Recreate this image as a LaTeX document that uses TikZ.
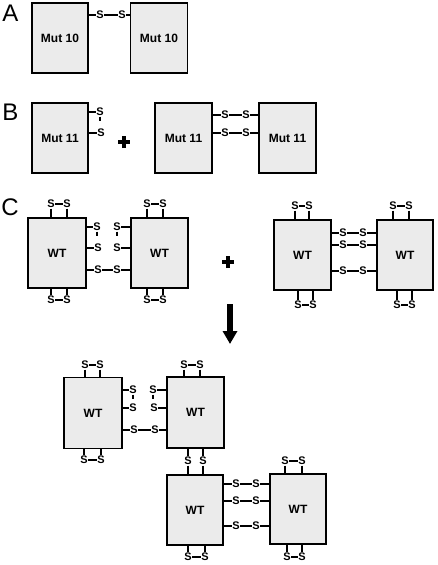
\documentclass[tikz,border=0pt]{standalone}
\usepackage{fontspec}
\setmainfont{Liberation Sans}
\usetikzlibrary{arrows.meta}
\begin{document}
\begin{tikzpicture}[x=1pt,y=-1pt,
 box/.style={draw, line width=1.4pt, fill=black!8, inner sep=0pt, minimum width=57pt, minimum height=70pt, font=\fontsize{12}{12}\selectfont\bfseries},
 sul/.style={inner sep=0.6pt, font=\fontsize{11}{11}\selectfont\bfseries},
 bond/.style={line width=1.1pt},
 lab/.style={font=\fontsize{24}{24}\selectfont, inner sep=0pt},
 plussign/.style={line width=3.2pt},
 tick/.style={line width=1.1pt}]
\useasboundingbox (0,0) rectangle (437,565);

% ---------- Panel A ----------
\node[lab] (lA) at (10.5,13.5) {A};
\node[box, minimum width=56pt] (a1) at (60,38) {Mut 10};
\node[box] (a2) at (159,38) {Mut 10};
\node[sul] (as1) at (100,15) {S};
\node[sul] (as2) at (122,15) {S};
\draw[bond] (a1.east |- as1) -- (as1) -- (as2) -- (a2.west |- as2);

% ---------- Panel B ----------
\node[lab] (lB) at (10.5,112) {B};
\node[box, minimum width=56pt] (b1) at (60,138) {Mut 11};
\node[sul] (bs1) at (100,112) {S};
\node[sul] (bs2) at (101,133) {S};
\draw[bond] (b1.east |- bs1) -- (bs1);
\draw[bond] (b1.east |- bs2) -- (bs2);
\draw[tick] (bs1.south) -- ++(0,4);
\coordinate (pB) at (124,142);
\draw[plussign] ([xshift=-6pt]pB) -- ([xshift=6pt]pB);
\draw[plussign] ([yshift=-6pt]pB) -- ([yshift=6pt]pB);
\node[box] (b2) at (183.5,138) {Mut 11};
\node[box] (b3) at (287.5,138) {Mut 11};
\node[sul] (bs3) at (225,115) {S};
\node[sul] (bs4) at (246,115) {S};
\node[sul] (bs5) at (225,133) {S};
\node[sul] (bs6) at (246,133) {S};
\draw[bond] (b2.east |- bs3) -- (bs3) -- (bs4) -- (b3.west |- bs4);
\draw[bond] (b2.east |- bs5) -- (bs5) -- (bs6) -- (b3.west |- bs6);

% ---------- Panel C ----------
\node[lab] (lC) at (10,207) {C};
\node[box, minimum width=58pt] (c1) at (57,253) {WT};
\node[box] (c2) at (159.5,253) {WT};
% c1 top / bottom
\node[sul] (c1t1) at (51,204) {S};
\node[sul] (c1t2) at (67,204) {S};
\draw[bond] (c1t1) -- (c1t2);
\draw[bond] (c1t1.south) -- (c1t1.south |- c1.north);
\draw[bond] (c1t2.south) -- (c1t2.south |- c1.north);
\node[sul] (c1b1) at (51,300) {S};
\node[sul] (c1b2) at (67,300) {S};
\draw[bond] (c1b1) -- (c1b2);
\draw[bond] (c1b1.north) -- (c1b1.north |- c1.south);
\draw[bond] (c1b2.north) -- (c1b2.north |- c1.south);
% c1 right side
\node[sul] (c1r1) at (97,227) {S};
\node[sul] (c1r2) at (98,248) {S};
\node[sul] (c1r3) at (98,270) {S};
\draw[bond] (c1.east |- c1r1) -- (c1r1);
\draw[tick] (c1r1.south) -- ++(0,4);
\draw[bond] (c1.east |- c1r2) -- (c1r2);
% c2 left side
\node[sul] (c2l1) at (117,227) {S};
\node[sul] (c2l2) at (117,248) {S};
\node[sul] (c2l3) at (117,270) {S};
\draw[bond] (c2l1) -- (c2.west |- c2l1);
\draw[tick] (c2l1.south) -- ++(0,4);
\draw[bond] (c2l2) -- (c2.west |- c2l2);
\draw[bond] (c1.east |- c1r3) -- (c1r3) -- (c2l3) -- (c2.west |- c2l3);
% c2 top / bottom
\node[sul] (c2t1) at (147,204) {S};
\node[sul] (c2t2) at (163,204) {S};
\draw[bond] (c2t1) -- (c2t2);
\draw[bond] (c2t1.south) -- (c2t1.south |- c2.north);
\draw[bond] (c2t2.south) -- (c2t2.south |- c2.north);
\node[sul] (c2b1) at (147,300) {S};
\node[sul] (c2b2) at (163,300) {S};
\draw[bond] (c2b1) -- (c2b2);
\draw[bond] (c2b1.north) -- (c2b1.north |- c2.south);
\draw[bond] (c2b2.north) -- (c2b2.north |- c2.south);

% plus
\coordinate (pC) at (228,262);
\draw[plussign] ([xshift=-6pt]pC) -- ([xshift=6pt]pC);
\draw[plussign] ([yshift=-6pt]pC) -- ([yshift=6pt]pC);

\node[box] (c3) at (302.5,255) {WT};
\node[box, minimum width=56pt] (c4) at (405,255) {WT};
\foreach \i/\yy in {1/233,2/245,3/271}{
  \node[sul] (cl\i) at (343,\yy) {S};
  \node[sul] (cr\i) at (363,\yy) {S};
  \draw[bond] (c3.east |- cl\i) -- (cl\i) -- (cr\i) -- (c4.west |- cr\i);
}
\node[sul] (c3t1) at (295,206) {S};
\node[sul] (c3t2) at (309,206) {S};
\draw[bond] (c3t1) -- (c3t2);
\draw[bond] (c3t1.south) -- (c3t1.south |- c3.north);
\draw[bond] (c3t2.south) -- (c3t2.south |- c3.north);
\node[sul] (c3b1) at (298,305) {S};
\node[sul] (c3b2) at (313,305) {S};
\draw[bond] (c3b1) -- (c3b2);
\draw[bond] (c3b1.north) -- (c3b1.north |- c3.south);
\draw[bond] (c3b2.north) -- (c3b2.north |- c3.south);
\node[sul] (c4t1) at (393,206) {S};
\node[sul] (c4t2) at (409,206) {S};
\draw[bond] (c4t1) -- (c4t2);
\draw[bond] (c4t1.south) -- (c4t1.south |- c4.north);
\draw[bond] (c4t2.south) -- (c4t2.south |- c4.north);
\node[sul] (c4b1) at (397,305) {S};
\node[sul] (c4b2) at (412,305) {S};
\draw[bond] (c4b1) -- (c4b2);
\draw[bond] (c4b1.north) -- (c4b1.north |- c4.south);
\draw[bond] (c4b2.north) -- (c4b2.north |- c4.south);

% arrow
\coordinate (ar1) at (230,304);
\coordinate (ar2) at (230,344);
\draw[line width=6pt, -{Triangle[width=14pt,length=13pt]}] (ar1) -- (ar2);

% ---------- Product ----------
\node[box, minimum width=58pt, minimum height=71pt] (d1) at (93,413) {WT};
\node[box, minimum height=71pt] (d2) at (195.5,412.5) {WT};
\node[box, minimum width=56pt] (d3) at (195,510) {WT};
\node[box, minimum width=56pt] (d4) at (298,509) {WT};
% d1 top / bottom
\node[sul] (d1t1) at (85,365) {S};
\node[sul] (d1t2) at (100,365) {S};
\draw[bond] (d1t1) -- (d1t2);
\draw[bond] (d1t1.south) -- (d1t1.south |- d1.north);
\draw[bond] (d1t2.south) -- (d1t2.south |- d1.north);
\node[sul] (d1b1) at (84,460) {S};
\node[sul] (d1b2) at (101,460) {S};
\draw[bond] (d1b1) -- (d1b2);
\draw[bond] (d1b1.north) -- (d1b1.north |- d1.south);
\draw[bond] (d1b2.north) -- (d1b2.north |- d1.south);
% d1 right
\node[sul] (d1r1) at (133,390) {S};
\node[sul] (d1r2) at (133,408) {S};
\node[sul] (d1r3) at (134,430) {S};
\draw[bond] (d1.east |- d1r1) -- (d1r1);
\draw[tick] (d1r1.south) -- ++(0,4);
\draw[bond] (d1.east |- d1r2) -- (d1r2);
% d2 left
\node[sul] (d2l1) at (153,390) {S};
\node[sul] (d2l2) at (154,408) {S};
\node[sul] (d2l3) at (155,430) {S};
\draw[bond] (d2l1) -- (d2.west |- d2l1);
\draw[tick] (d2l1.south) -- ++(0,4);
\draw[bond] (d2l2) -- (d2.west |- d2l2);
\draw[bond] (d1.east |- d1r3) -- (d1r3) -- (d2l3) -- (d2.west |- d2l3);
% d2 top
\node[sul] (d2t1) at (184,365) {S};
\node[sul] (d2t2) at (200,365) {S};
\draw[bond] (d2t1) -- (d2t2);
\draw[bond] (d2t1.south) -- (d2t1.south |- d2.north);
\draw[bond] (d2t2.south) -- (d2t2.south |- d2.north);
% d2 - d3 bonds
\node[sul] (m1) at (188,461) {S};
\node[sul] (m2) at (203,461) {S};
\draw[bond] (m1.north) -- (m1.north |- d2.south);
\draw[bond] (m2.north) -- (m2.north |- d2.south);
\draw[bond] (m1.south) -- (m1.south |- d3.north);
\draw[bond] (m2.south) -- (m2.south |- d3.north);
% d3 bottom
\node[sul] (d3b1) at (188,557) {S};
\node[sul] (d3b2) at (205,557) {S};
\draw[bond] (d3b1) -- (d3b2);
\draw[bond] (d3b1.north) -- (d3b1.north |- d3.south);
\draw[bond] (d3b2.north) -- (d3b2.north |- d3.south);
% d3 - d4 links
\foreach \i/\yy in {1/484,2/501,3/526}{
  \node[sul] (dl\i) at (236,\yy) {S};
  \node[sul] (dr\i) at (256,\yy) {S};
  \draw[bond] (d3.east |- dl\i) -- (dl\i) -- (dr\i) -- (d4.west |- dr\i);
}
% d4 top / bottom
\node[sul] (d4t1) at (285,461) {S};
\node[sul] (d4t2) at (302,461) {S};
\draw[bond] (d4t1) -- (d4t2);
\draw[bond] (d4t1.south) -- (d4t1.south |- d4.north);
\draw[bond] (d4t2.south) -- (d4t2.south |- d4.north);
\node[sul] (d4b1) at (287,557) {S};
\node[sul] (d4b2) at (302,557) {S};
\draw[bond] (d4b1) -- (d4b2);
\draw[bond] (d4b1.north) -- (d4b1.north |- d4.south);
\draw[bond] (d4b2.north) -- (d4b2.north |- d4.south);
\end{tikzpicture}
\end{document}
